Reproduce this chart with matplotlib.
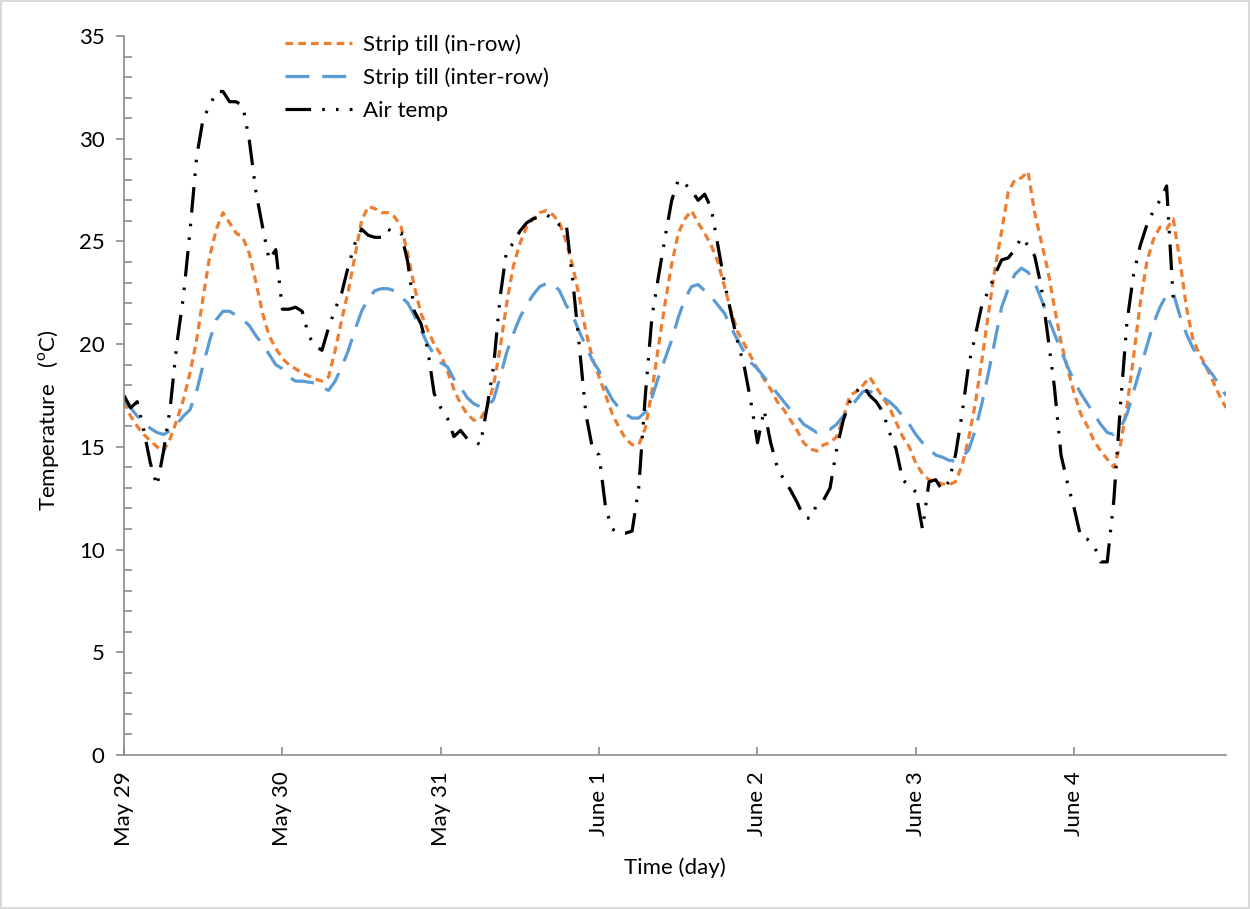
import numpy as np
import matplotlib
matplotlib.use("Agg")
import matplotlib.pyplot as plt
from matplotlib.ticker import MultipleLocator

plt.rcParams['font.family'] = ['Lato', 'DejaVu Sans']
plt.rcParams['mathtext.fontset'] = 'custom'
plt.rcParams['mathtext.rm'] = 'Lato'

# hourly soil temperature, strip till in-row (deg C), starting May 29 00:00
in_row = [17.2, 16.5, 16.0, 15.6, 15.3, 15.0, 14.8, 15.4, 16.3, 17.3, 18.6, 20.2,
          22.3, 24.3, 25.6, 26.4, 25.9, 25.4, 25.2, 24.4, 23.0, 21.5, 20.4, 19.8,
          19.3, 19.0, 18.8, 18.6, 18.45, 18.3, 18.2, 18.4, 19.7, 21.2, 22.6, 24.3,
          26.0, 26.7, 26.6, 26.4, 26.4, 26.2, 25.7, 24.4, 22.8, 21.5, 20.7, 20.0,
          19.5, 18.7, 17.8, 17.1, 16.6, 16.3, 16.35, 16.9, 18.0, 19.8, 22.0, 23.8,
          24.9, 25.7, 26.1, 26.4, 26.5, 26.3, 25.9, 25.0, 23.8, 22.3, 20.6, 19.3,
          18.4, 17.5, 16.6, 15.95, 15.4, 15.1, 15.1, 15.9, 17.7, 19.9, 22.0, 23.9,
          25.4, 26.1, 26.5, 25.9, 25.4, 24.8, 24.0, 22.8, 21.6, 20.6, 20.0, 19.4,
          18.8, 18.3, 17.8, 17.2, 16.8, 16.3, 15.8, 15.2, 14.9, 14.8, 15.1, 15.2,
          15.5, 16.4, 17.5, 17.7, 18.0, 18.4, 17.9, 17.4, 16.9, 16.2, 15.5, 15.0,
          14.2, 13.7, 13.4, 13.3, 13.2, 13.15, 13.3, 14.1, 15.4, 17.1, 19.2, 21.5,
          23.7, 25.5, 27.4, 28.0, 28.1, 28.4, 26.4, 25.0, 23.6, 21.8, 20.1, 18.8,
          17.6, 16.6, 16.0, 15.3, 14.8, 14.4, 14.0, 15.1, 17.0, 19.4, 22.0, 24.0,
          25.1, 25.7, 25.6, 26.1, 24.1, 21.8, 20.2, 19.5, 18.9, 18.2, 17.5, 16.9]

# strip till inter-row
inter_row = [17.3, 16.9, 16.5, 16.2, 15.9, 15.7, 15.6, 15.8, 16.1, 16.5, 16.8, 17.7,
             19.0, 20.2, 21.2, 21.6, 21.6, 21.4, 21.2, 20.9, 20.4, 20.0, 19.5, 19.0,
             18.8, 18.4, 18.2, 18.2, 18.15, 18.1, 17.9, 17.75, 18.2, 18.9, 19.7, 20.7,
             21.6, 22.2, 22.6, 22.7, 22.7, 22.6, 22.3, 22.0, 21.4, 20.7, 20.0, 19.5,
             19.1, 18.9, 18.3, 17.9, 17.4, 17.1, 16.95, 16.95, 17.3, 18.4, 19.6, 20.5,
             21.3, 21.9, 22.4, 22.8, 22.95, 22.95, 22.6, 21.9, 21.4, 20.6, 19.9, 19.2,
             18.7, 17.9, 17.3, 16.9, 16.6, 16.4, 16.4, 16.7, 17.4, 18.4, 19.3, 20.2,
             21.3, 22.2, 22.8, 22.9, 22.6, 22.3, 21.9, 21.5, 20.8, 20.2, 19.6, 19.1,
             18.8, 18.4, 18.0, 17.6, 17.2, 16.8, 16.5, 16.1, 15.9, 15.7, 15.8, 15.85,
             16.1, 16.5, 16.9, 17.3, 17.7, 17.7, 17.6, 17.4, 17.2, 16.9, 16.5, 16.1,
             15.6, 15.2, 14.9, 14.6, 14.5, 14.35, 14.3, 14.5, 14.85, 15.8, 17.1, 18.6,
             20.2, 21.8, 22.7, 23.4, 23.7, 23.5, 23.0, 22.2, 21.3, 20.5, 19.7, 18.9,
             18.2, 17.6, 17.1, 16.6, 16.1, 15.7, 15.6, 15.9, 16.6, 17.7, 18.8, 19.9,
             21.0, 21.8, 22.4, 22.5, 21.4, 20.5, 19.8, 19.3, 18.9, 18.5, 18.0, 17.5]

# air temperature
air_temp = [17.5, 16.9, 17.2, 15.8, 14.2, 13.1, 14.8, 16.9, 20.0, 22.3, 25.5, 29.1,
            31.0, 31.6, 32.3, 32.3, 31.8, 31.8, 31.6, 29.9, 27.4, 25.7, 24.1, 24.6,
            21.7, 21.7, 21.8, 21.6, 20.4, 19.9, 19.7, 20.8, 21.7, 22.5, 23.8, 24.9,
            25.6, 25.3, 25.2, 25.2, 25.6, 25.4, 25.4, 24.0, 21.6, 21.0, 19.8, 17.6,
            16.9, 16.4, 15.5, 15.8, 15.4, 15.3, 15.1, 16.9, 18.9, 22.3, 24.6, 24.9,
            25.5, 25.9, 26.1, 26.2, 26.3, 26.1, 25.8, 25.9, 23.1, 19.9, 16.6, 14.9,
            14.6, 12.0, 11.0, 10.8, 10.8, 10.9, 13.0, 17.5, 21.3, 23.3, 25.2, 27.0,
            28.0, 27.8, 27.5, 27.0, 27.3, 26.6, 24.8, 23.0, 21.5, 20.1, 18.9, 17.2,
            15.2, 16.8, 15.2, 14.0, 13.4, 12.9, 12.3, 11.6, 11.5, 12.2, 12.4, 13.0,
            14.9, 16.3, 17.2, 17.7, 18.0, 17.5, 17.2, 16.7, 15.7, 14.9, 13.4, 13.1,
            12.8, 11.0, 13.3, 13.4, 12.9, 13.3, 14.6, 16.6, 19.0, 20.4, 21.9, 22.6,
            23.4, 24.1, 24.2, 24.6, 25.2, 24.8, 24.3, 22.8, 20.4, 17.9, 14.6, 13.2,
            12.0, 10.6, 10.5, 10.2, 9.4, 9.4, 12.4, 17.0, 21.1, 23.4, 24.8, 25.8,
            26.5, 27.0, 27.7, 22.2]

day_labels = ['May 29', 'May 30', 'May 31', 'June 1', 'June 2', 'June 3', 'June 4']

fig = plt.figure(figsize=(12.5, 9.09), dpi=100)
fig.patch.set_edgecolor('#d9d9d9')
fig.patch.set_linewidth(1.5)
ax = fig.add_axes([0.0992, 0.1694, 0.8816, 0.791])

ax.plot(np.arange(len(in_row)), in_row, color='#ed7d31', lw=2.3,
        linestyle=(0, (2.4, 1.6)), label='Strip till (in-row)')
ax.plot(np.arange(len(inter_row)), inter_row, color='#5b9bd5', lw=2.3,
        linestyle=(0, (7.5, 4.0)), label='Strip till (inter-row)')
ax.plot(np.arange(len(air_temp)), air_temp, color='black', lw=2.3,
        linestyle=(0, (8, 3.5, 0.8, 3.5, 0.8, 3.5)), label='Air temp')

ax.set_xlim(0, len(in_row) - 1)
ax.set_ylim(0, 35)
ax.yaxis.set_major_locator(MultipleLocator(5))
ax.yaxis.set_minor_locator(MultipleLocator(1))
ax.set_xticks(np.arange(len(day_labels)) * 24)
ax.set_xticklabels(day_labels, rotation=90, va='top')

for side in ['top', 'right']:
    ax.spines[side].set_visible(False)
for side in ['left', 'bottom']:
    ax.spines[side].set_color('#8c8c8c')
    ax.spines[side].set_linewidth(1.2)

ax.tick_params(axis='y', which='major', direction='out', length=6, width=1.2,
               color='#8c8c8c', labelsize=16, pad=8)
ax.tick_params(axis='y', which='minor', direction='in', length=6, width=1.2,
               color='#8c8c8c')
ax.tick_params(axis='x', which='major', direction='in', length=6, width=1.2,
               color='#8c8c8c', labelsize=16, pad=12)

ax.set_xlabel('Time (day)', fontsize=16, labelpad=8)
ax.set_ylabel(r'Temperature   ($^{\mathrm{o}}$C)', fontsize=16)
ax.yaxis.set_label_coords(-0.057, 0.465)

ax.legend(loc='upper left', bbox_to_anchor=(0.146, 1.002), frameon=False,
          fontsize=16, handlelength=3.0, handletextpad=0.5, labelspacing=0.56,
          borderpad=0, borderaxespad=0)

fig.savefig('out.png', dpi=100)
